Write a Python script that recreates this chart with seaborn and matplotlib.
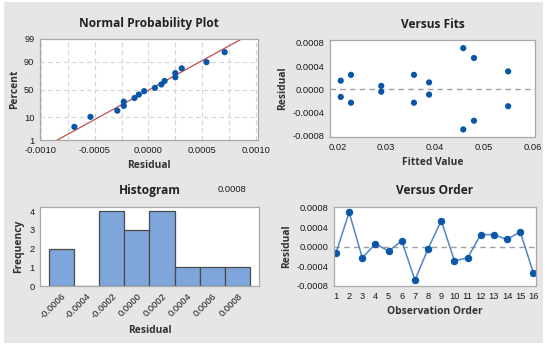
import numpy as np
import pandas as pd
import seaborn as sns
import matplotlib.pyplot as plt
from matplotlib import font_manager
from matplotlib.patches import Rectangle
from statistics import NormalDist

# residuals in observation order
residuals = [-0.00013, 0.00071, -0.00023, 0.00006, -0.00009, 0.00012, -0.00069, -0.00004,
             0.00054, -0.00029, -0.00023, 0.00025, 0.00025, 0.00015, 0.00031, -0.00054]
fitted = [0.0207, 0.0458, 0.0228, 0.0290, 0.0388, 0.0388, 0.0458, 0.0290,
          0.0480, 0.0550, 0.0357, 0.0228, 0.0357, 0.0207, 0.0550, 0.0480]
order = list(range(1, 17))

pct_ticks = [1, 10, 50, 90, 99]
npp_xticks = [-0.0010, -0.0005, 0.0000, 0.0005, 0.0010]
hist_edges = [-0.0007, -0.0005, -0.0003, -0.0001, 0.0001, 0.0003, 0.0005, 0.0007, 0.0009]
hist_ticks = [-0.0006, -0.0004, -0.0002, 0.0000, 0.0002, 0.0004, 0.0006, 0.0008]
res_ticks = [-0.0008, -0.0004, 0.0000, 0.0004, 0.0008]

sns.set_style('white')

# narrow face for tick labels if there is one
installed = {f.name for f in font_manager.fontManager.ttflist}
narrow = [f for f in ['Liberation Sans Narrow', 'Arial Narrow', 'DejaVu Sans Condensed'] if f in installed]
if narrow:
    plt.rcParams['font.family'] = [narrow[0], 'DejaVu Sans']
    tick_size = 7.5
else:
    plt.rcParams['font.family'] = ['Liberation Sans', 'DejaVu Sans']
    plt.rcParams['font.stretch'] = 'condensed'
    tick_size = 6.7

dot = '#0a56a8'
title_font = dict(fontsize=8.6, fontweight='bold', family=['Open Sans', 'DejaVu Sans'], color='#222222')
label_font = dict(fontsize=7.4, fontweight='bold', family=['Open Sans', 'DejaVu Sans'], color='#333333')

fig = plt.figure(figsize=(5.5, 3.51), dpi=100, facecolor='white')
fig.patches.append(Rectangle((4 / 550, 8 / 351), 539 / 550, 341 / 351, transform=fig.transFigure,
                             facecolor='#e6e6e6', edgecolor='none', zorder=-5))

ax1 = fig.add_axes([40 / 550, 1 - 140 / 351, 218 / 550, 101 / 351])
ax2 = fig.add_axes([330 / 550, 1 - 137 / 351, 205 / 550, 97 / 351])
ax3 = fig.add_axes([40 / 550, 1 - 286 / 351, 219 / 550, 79 / 351])
ax4 = fig.add_axes([334 / 550, 1 - 286 / 351, 202 / 550, 79 / 351])

for ax in [ax1, ax2, ax3, ax4]:
    ax.set_facecolor('white')
    for s in ax.spines.values():
        s.set_color('#a8a8a8')
        s.set_linewidth(0.9)
    ax.tick_params(axis='both', length=3, width=0.7, color='#a8a8a8', pad=1,
                   labelsize=tick_size, labelcolor='#1a1a1a')

# --- Normal probability plot
nd = NormalDist()
n = len(residuals)
srt = np.sort(residuals)
p = (np.arange(1, n + 1) - 0.3) / (n + 0.4)
z = np.array([nd.inv_cdf(v) for v in p])
mu, sd = np.mean(residuals), np.std(residuals, ddof=1)
zl = np.linspace(nd.inv_cdf(0.005), nd.inv_cdf(0.995), 50)
npp_line = pd.DataFrame({'x': mu + sd * zl, 'z': zl})
npp_pts = pd.DataFrame({'x': srt, 'z': z})
for gx in np.arange(-0.001, 0.00101, 0.00025):
    ax1.axvline(gx, color='#d4d4d4', lw=0.8, ls=(0, (4, 3)), zorder=0)
for pt in [10, 50, 90]:
    ax1.axhline(nd.inv_cdf(pt / 100), color='#d4d4d4', lw=0.8, ls=(0, (4, 3)), zorder=0)
sns.lineplot(data=npp_line, x='x', y='z', ax=ax1, color='#c0504d', lw=0.9, sort=False)
sns.scatterplot(data=npp_pts, x='x', y='z', ax=ax1, color=dot, s=20, edgecolor='none', zorder=3)
ax1.set_xlim(-0.00101, 0.00102)
ax1.set_ylim(nd.inv_cdf(0.01), nd.inv_cdf(0.99))
ax1.set_yticks([nd.inv_cdf(v / 100) for v in pct_ticks])
ax1.set_yticklabels([str(v) for v in pct_ticks])
ax1.set_xticks(npp_xticks)
ax1.set_xticklabels(['%.4f' % v for v in npp_xticks])
ax1.set_title('Normal Probability Plot', pad=9, **title_font)
ax1.set_xlabel('Residual', labelpad=4, **label_font)
ax1.set_ylabel('Percent', labelpad=3, **label_font)

# --- Versus fits
fits_df = pd.DataFrame({'fit': fitted, 'res': residuals})
ax2.axhline(0, color='#a0a0a0', lw=1.0, ls=(0, (4, 3)), zorder=0)
sns.scatterplot(data=fits_df, x='fit', y='res', ax=ax2, color=dot, s=20, edgecolor='none', zorder=3)
ax2.set_xlim(0.0185, 0.0605)
ax2.set_ylim(-0.00082, 0.00085)
ax2.set_xticks([0.02, 0.03, 0.04, 0.05, 0.06])
ax2.set_xticklabels(['0.02', '0.03', '0.04', '0.05', '0.06'])
ax2.set_yticks(res_ticks)
ax2.set_yticklabels(['%.4f' % v for v in res_ticks])
ax2.set_title('Versus Fits', pad=9, **title_font)
ax2.set_xlabel('Fitted Value', labelpad=4, **label_font)
ax2.set_ylabel('Residual', labelpad=3, **label_font)

# --- Histogram
sns.histplot(x=residuals, bins=hist_edges, ax=ax3, color='#7ea6da', alpha=1,
             edgecolor='#4a4a4a', linewidth=0.9)
ax3.set_xlim(-0.00077, 0.00097)
ax3.set_ylim(0, 4.23)
ax3.set_yticks([0, 1, 2, 3, 4])
ax3.set_xticks(hist_ticks)
ax3.set_xticklabels(['%.4f' % v for v in hist_ticks], rotation=45, ha='right', rotation_mode='anchor')
ax3.set_title('Histogram', pad=9, **title_font)
ax3.set_xlabel('Residual', labelpad=3, **label_font)
ax3.set_ylabel('Frequency', labelpad=4, **label_font)
fig.text(232 / 550, 1 - 189 / 351, '0.0008', fontsize=tick_size, ha='center', va='center', color='#1a1a1a')

# --- Versus order
order_df = pd.DataFrame({'obs': order, 'res': residuals})
ax4.axhline(0, color='#a0a0a0', lw=1.0, ls=(0, (4, 3)), zorder=0)
sns.lineplot(data=order_df, x='obs', y='res', ax=ax4, color='#4f86c6', lw=1.1,
             marker='o', markersize=4.6, markerfacecolor=dot, markeredgecolor=dot)
ax4.set_xlim(0.85, 16.2)
ax4.set_ylim(-0.00081, 0.00082)
ax4.set_xticks(order)
ax4.set_yticks(res_ticks)
ax4.set_yticklabels(['%.4f' % v for v in res_ticks])
ax4.set_title('Versus Order', pad=9, **title_font)
ax4.set_xlabel('Observation Order', labelpad=4, **label_font)
ax4.set_ylabel('Residual', labelpad=3, **label_font)

fig.savefig('out.png', dpi=100, facecolor=fig.get_facecolor())
